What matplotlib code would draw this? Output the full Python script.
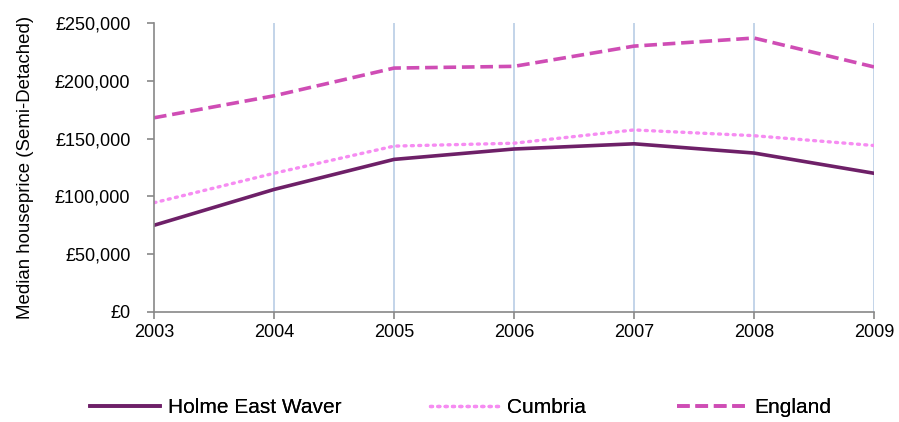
import numpy as np
import matplotlib.pyplot as plt
from matplotlib.ticker import FuncFormatter

plt.rcParams['font.family'] = ['Liberation Sans', 'DejaVu Sans']

years = [2003, 2004, 2005, 2006, 2007, 2008, 2009]
holme = [75000, 106000, 132000, 141000, 145500, 137500, 120000]
cumbria = [94500, 120000, 143500, 146000, 157500, 152500, 144000]
england = [168000, 187000, 211000, 212500, 230000, 237000, 212000]

fig = plt.figure(figsize=(8.99, 4.22), dpi=100)
ax = fig.add_axes([0.1713, 0.2607, 0.8009, 0.6848])

l1, = ax.plot(years, holme, color='#6E2068', lw=2.6, label='Holme East Waver')
l2, = ax.plot(years, cumbria, color='#F68CF2', lw=2.4, linestyle=(0, (0.6, 1.6)),
              dash_capstyle='round', label='Cumbria')
l3, = ax.plot(years, england, color='#CF4DB5', lw=2.6, linestyle=(0, (3.5, 1.6)),
              label='England')

ax.set_xlim(2003, 2009)
ax.set_ylim(0, 250000)
ax.set_xticks(years)
ax.set_yticks(np.arange(0, 250001, 50000))
ax.yaxis.set_major_formatter(FuncFormatter(lambda v, p: '£{:,.0f}'.format(v)))

for y in years[1:]:
    ax.axvline(y, color='#B9CDE5', lw=1.2, zorder=0)

for s in ['top', 'right']:
    ax.spines[s].set_visible(False)
for s in ['left', 'bottom']:
    ax.spines[s].set_color('#888888')
    ax.spines[s].set_linewidth(1.2)
ax.tick_params(axis='both', colors='#888888', length=5, width=1.2,
               labelcolor='black', labelsize=13)
ax.tick_params(axis='x', pad=4)
ax.tick_params(axis='y', pad=12)

ax.set_ylabel('Median houseprice (Semi-Detached)', fontsize=13.4, labelpad=15)

# one legend per series so each sits where the original puts it
for line, x in zip([l1, l2, l3], [0.100, 0.478, 0.753]):
    leg = fig.legend(handles=[line], loc='center left', bbox_to_anchor=(x, 0.034),
                     frameon=False, fontsize=15, handlelength=3.35,
                     handletextpad=0.38, borderpad=0, borderaxespad=0)
    fig.add_artist(leg)

fig.savefig('out.png', dpi=100)
